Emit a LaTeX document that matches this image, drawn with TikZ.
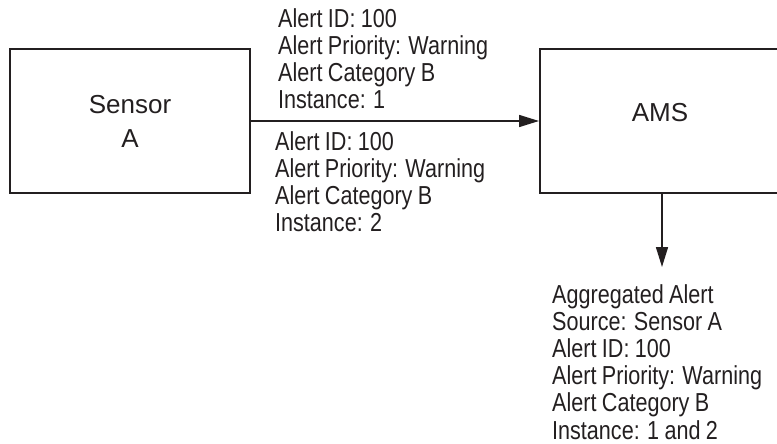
\documentclass[tikz,border=0pt]{standalone}
\usepackage{fontspec}
\setmainfont{Liberation Sans}
\newfontfamily\narrowsans{Liberation Sans}[FakeStretch=0.83,WordSpace=0.9]
\usepackage{tikz}
\usetikzlibrary{arrows.meta}
\definecolor{ink}{HTML}{231F20}

\tikzset{
  unitbox/.style={draw=ink,line width=2pt,rectangle,minimum width=240pt,minimum height=144pt,inner sep=0pt},
  boxlbl/.style={text=ink,align=center,inner sep=0pt,font=\fontsize{26}{34}\selectfont},
  msg/.style={text=ink,align=left,anchor=north west,inner sep=0pt,font=\narrowsans\fontsize{26}{27.2}\selectfont},
  flow/.style={draw=ink,line width=1.6pt,-{Triangle[length=20pt,width=12pt]}}
}

\begin{document}
\begin{tikzpicture}[x=1pt,y=-1pt]

    % Batas gambar (kotak AMS terpotong di kanan)
    \useasboundingbox (0,0) rectangle (777,444);
    \clip (0,0) rectangle (777,444);

    % Kotak sensor dan AMS
    \node[unitbox] (sensor) at (130,121) {};
    \node[boxlbl] (sensorlbl) at (sensor.center) {Sensor\\A};
    \node[unitbox] (ams) at (660,121) {};
    \node[boxlbl] (amslbl) at ([yshift=8pt]ams.center) {AMS};

    % Panah dari sensor ke AMS, lalu keluar ke bawah
    \draw[flow] (sensor.east) -- (ams.west);
    \coordinate (out) at (662,267);
    \draw[flow] (ams.south -| out) -- (out);

    % Pesan di atas dan di bawah panah
    \node[msg] (inst1) at (278,8) {Alert ID: 100\\Alert Priority: Warning\\Alert Category B\\Instance: 1};
    \node[msg] (inst2) at (275,131) {Alert ID: 100\\Alert Priority: Warning\\Alert Category B\\Instance: 2};

    % Hasil agregasi
    \node[msg] (aggr) at (552,284) {Aggregated Alert\\Source: Sensor A\\Alert ID: 100\\Alert Priority: Warning\\Alert Category B\\Instance: 1 and 2};

\end{tikzpicture}
\end{document}
